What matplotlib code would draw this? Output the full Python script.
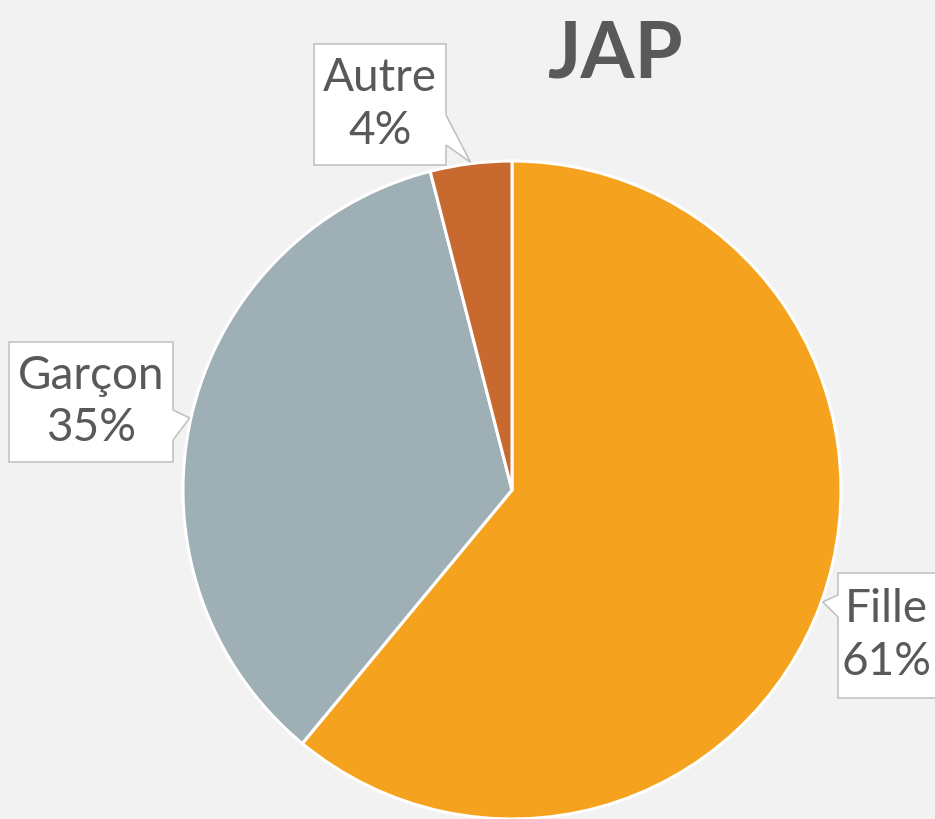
import numpy as np
import matplotlib.pyplot as plt
from matplotlib.patches import Polygon

plt.rcParams['font.family'] = ['Lato', 'DejaVu Sans']

labels = ['Fille', 'Garçon', 'Autre']
values = [61, 35, 4]
colors = ['#F5A31F', '#9EAFB5', '#C8692F']

W, H = 935, 819
fig = plt.figure(figsize=(W / 100, H / 100), dpi=100, facecolor='#F2F2F2')
ax = fig.add_axes([0, 0, 1, 1])
ax.set_facecolor('#F2F2F2')

cx, cy, r = 512, H - 490, 329
wedges, _ = ax.pie(values, colors=colors, startangle=90, counterclock=False,
                   center=(cx, cy), radius=r,
                   wedgeprops=dict(edgecolor='white', linewidth=2.2))
ax.set_xlim(0, W)
ax.set_ylim(0, H)
ax.set_aspect('equal')
ax.axis('off')

# callout boxes: (x0, x1, y0, y1), pointer side, pointer base (b0, b1)
boxes = {
    'Fille': ((838, 950, 121, 246), 'left', (202, 224)),
    'Garçon': ((9, 173, 357, 477), 'right', (379, 409)),
    'Autre': ((314, 446, 654, 775), 'right', (674, 704)),
}

for w, lab, v in zip(wedges, labels, values):
    mid = np.deg2rad((w.theta1 + w.theta2) / 2)
    tip = (cx + r * 1.004 * np.cos(mid), cy + r * 1.004 * np.sin(mid))
    (x0, x1, y0, y1), side, (b0, b1) = boxes[lab]
    if side == 'right':
        pts = [(x0, y0), (x1, y0), (x1, b0), tip, (x1, b1), (x1, y1), (x0, y1)]
    else:
        pts = [(x0, y0), (x1, y0), (x1, y1), (x0, y1), (x0, b1), tip, (x0, b0)]
    ax.add_patch(Polygon(pts, closed=True, facecolor='white', edgecolor='#BFBFBF',
                         linewidth=1.1, zorder=3))
    tx = (x0 + min(x1, W)) / 2 if lab != 'Fille' else 886
    ax.text(tx, (y0 + y1) / 2, f'{lab}\n{v}%', ha='center', va='center',
            fontsize=33, color='#595959', linespacing=1.32, zorder=4)

ax.text(615, H - 78, 'JAP', ha='center', va='baseline', fontsize=56,
        fontweight='bold', color='#595959')

fig.savefig('out.png', dpi=100, facecolor=fig.get_facecolor())
